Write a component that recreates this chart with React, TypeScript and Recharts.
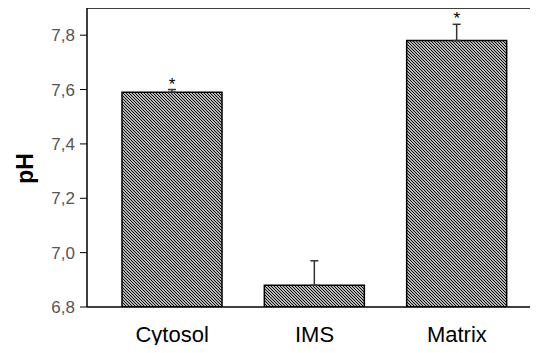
import React from 'react';
import { BarChart, Bar, XAxis, YAxis, ErrorBar, ReferenceLine, ReferenceDot } from 'recharts';

const compartments = ['Cytosol', 'IMS', 'Matrix'];
const phValues = [7.59, 6.88, 7.78];
const phErrors = [0.01, 0.09, 0.06];
const significance = ['*', '', '*'];
const yTicks = [6.8, 7.0, 7.2, 7.4, 7.6, 7.8];

const data = compartments.map((name, i) => ({
  name,
  ph: phValues[i],
  err: [0, phErrors[i]],
  top: phValues[i] + phErrors[i],
}));

const font = 'Arial, "Liberation Sans", sans-serif';

// rotated axis title, sitting a bit below the middle like in the original
const PhLabel = (props: any) => {
  const vb = props.viewBox || { x: 0, y: 0, width: 0, height: 0 };
  const x = vb.x + 25;
  const y = vb.y + vb.height / 2 + 11;
  return (
    <text
      x={x}
      y={y}
      transform={`rotate(-90, ${x}, ${y})`}
      textAnchor="middle"
      dominantBaseline="central"
      fill="#000"
      fontSize={23}
      fontWeight="bold"
      fontFamily={font}
    >
      pH
    </text>
  );
};

export default function App() {
  return (
    <div style={{ margin: -8, width: 538, height: 353, background: '#fff' }}>
      <BarChart width={538} height={353} data={data} margin={{ top: 8, right: 0, bottom: 6, left: 0 }}>
        <defs>
          <pattern id="hatch" patternUnits="userSpaceOnUse" width="3" height="3">
            <rect width="3" height="3" fill="#fff" />
            <path d="M-1,-1 L4,4 M-1,2 L1,4 M2,-1 L4,1" stroke="#000" strokeWidth={1.1} />
          </pattern>
        </defs>
        <XAxis
          dataKey="name"
          axisLine={{ stroke: '#000', strokeWidth: 1.5 }}
          tickLine={false}
          height={40}
          padding={{ left: 14, right: 10 }}
          tick={{ fill: '#000', fontSize: 22, fontFamily: font, dy: 11 }}
        />
        <YAxis
          domain={[6.8, 7.9]}
          ticks={yTicks}
          width={87}
          allowDataOverflow
          axisLine={{ stroke: '#000', strokeWidth: 1.5 }}
          tickLine={{ stroke: '#000' }}
          tickSize={7}
          tickMargin={5}
          tickFormatter={(v: number) => v.toFixed(1).replace('.', ',')}
          tick={{ fill: '#555', fontSize: 17, fontFamily: font }}
          label={<PhLabel />}
        />
        <ReferenceLine y={7.9} stroke="#000" strokeWidth={1.5} />
        <Bar dataKey="ph" fill="url(#hatch)" stroke="#000" strokeWidth={1.5} barSize={100} isAnimationActive={false}>
          <ErrorBar dataKey="err" direction="y" width={4} stroke="#333" strokeWidth={1.5} isAnimationActive={false} />
        </Bar>
        {data.map((d, i) =>
          significance[i] ? (
            <ReferenceDot
              key={d.name}
              x={d.name}
              y={d.top}
              r={0}
              ifOverflow="visible"
              label={{ value: significance[i], position: 'top', offset: 0, style: { fill: '#000', fontSize: 17, fontFamily: font } }}
            />
          ) : null,
        )}
      </BarChart>
    </div>
  );
}
